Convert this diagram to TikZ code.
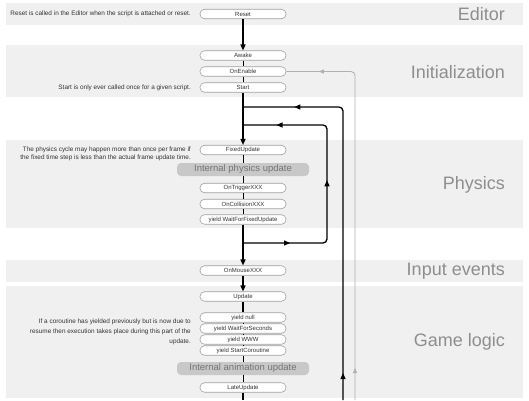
\documentclass[tikz,border=0pt]{standalone}
\usepackage{fontspec}
\setmainfont{Liberation Sans}
\usetikzlibrary{arrows.meta,decorations.markings}

\definecolor{band}{HTML}{F0F0F0}
\definecolor{boxline}{HTML}{A0A0A0}
\definecolor{labelgray}{HTML}{8E8E8E}
\definecolor{intfill}{HTML}{C8C8C8}
\definecolor{inttext}{HTML}{747474}
\definecolor{loopgray}{HTML}{B0B0B0}
\definecolor{textdark}{HTML}{333333}

\begin{document}
\begin{tikzpicture}[x=1pt,y=-1pt,
    ev/.style={draw=boxline,line width=0.6pt,fill=white,rounded corners=4.5pt,
      minimum width=86pt,minimum height=9.5pt,inner sep=0pt,text=textdark,
      font=\fontsize{6}{7}\selectfont},
    internal/.style={fill=intfill,rounded corners=4pt,minimum width=132pt,
      minimum height=13pt,inner sep=0pt,text=inttext,font=\fontsize{9.5}{11}\selectfont},
    note/.style={anchor=east,align=right,inner sep=0pt,text=textdark},
    phase/.style={anchor=east,inner sep=0pt,text=labelgray,font=\fontsize{18}{20}\selectfont},
    flow/.style={line width=1.3pt,-{Triangle[length=6pt,width=5pt]}},
    link/.style={line width=0.8pt},
    loopline/.style={line width=1.3pt,rounded corners=4pt},
    greyline/.style={line width=0.8pt,draw=loopgray,rounded corners=4pt},
    tip/.style={postaction={decorate,decoration={markings,
      mark=at position #1 with {\arrow{Triangle[length=6pt,width=5pt]}}}}},
    greytip/.style={postaction={decorate,decoration={markings,
      mark=at position #1 with {\arrow[loopgray]{Triangle[length=5pt,width=4pt]}}}}}]
  \useasboundingbox (0,0) rectangle (529,400);

  % phase bands
  \fill[band] (6,3) rectangle (523,25);
  \fill[band] (6,45) rectangle (523,97);
  \fill[band] (6,140) rectangle (523,228);
  \fill[band] (6,260) rectangle (523,282);
  \fill[band] (6,286) rectangle (523,398);

  \node[phase] (editor) at (505,14) {Editor};
  \node[phase] (init) at (505,72) {Initialization};
  \node[phase] (physics) at (505,185) {Physics};
  \node[phase] (input) at (505,271) {Input events};
  \node[phase] (gamelogic) at (505,342) {Game logic};

  % event boxes
  \node[ev] (reset) at (243,14) {Reset};
  \node[ev] (awake) at (243,55.5) {Awake};
  \node[ev] (onenable) at (243,71.5) {OnEnable};
  \node[ev] (start) at (243,87.5) {Start};
  \node[ev] (fixedupdate) at (243,150) {FixedUpdate};
  \node[internal] (physupdate) at (243,169.5) {Internal physics update};
  \node[ev] (ontrigger) at (243,188) {OnTriggerXXX};
  \node[ev] (oncollision) at (243,204) {OnCollisionXXX};
  \node[ev] (waitfixed) at (243,219.5) {yield WaitForFixedUpdate};
  \node[ev] (onmouse) at (243,270.5) {OnMouseXXX};
  \node[ev] (update) at (243,296.5) {Update};
  \node[ev] (yieldnull) at (243,317.5) {yield null};
  \node[ev] (waitsec) at (243,328.5) {yield WaitForSeconds};
  \node[ev] (yieldwww) at (243,339.5) {yield WWW};
  \node[ev] (startco) at (243,350.5) {yield StartCoroutine};
  \node[internal] (animupdate) at (243,368.5) {Internal animation update};
  \node[ev] (lateupdate) at (243,387.5) {LateUpdate};

  % notes
  \node[note,font=\fontsize{6.4}{7}\selectfont] (resetnote) at (191,14)
    {Reset is called in the Editor when the script is attached or reset.};
  \node[note,font=\fontsize{6.4}{7}\selectfont] (startnote) at (191,87.5)
    {Start is only ever called once for a given script.};
  \node[note,font=\fontsize{6.4}{7.5}\selectfont] (physnote) at (191,154)
    {The physics cycle may happen more than once per frame if\\
     the fixed time step is less than the actual frame update time.};
  \node[note,font=\fontsize{6.4}{10}\selectfont] (conote) at (191,332)
    {If a coroutine has yielded previously but is now due to\\
     resume then execution takes place during this part of the\\
     update.};

  % loop ends
  \coordinate (outtop) at (243,107);
  \coordinate (outbot) at (343,400);
  \coordinate (intop) at (243,125);
  \coordinate (inbot) at (243,243);
  \coordinate (inright) at (327,243);
  \coordinate (greybot) at (355,400);
  \coordinate (lateend) at (243,400);

  % main flow
  \draw[flow] (reset) -- (awake);
  \draw[link] (awake) -- (onenable);
  \draw[link] (onenable) -- (start);
  \draw[flow] (start) -- (fixedupdate);
  \draw[link] (fixedupdate) -- (physupdate);
  \draw[link] (physupdate) -- (ontrigger);
  \draw[link] (ontrigger) -- (oncollision);
  \draw[link] (oncollision) -- (waitfixed);
  \draw[flow] (waitfixed) -- (onmouse);
  \draw[flow] (onmouse) -- (update);
  \draw[line width=1.1pt] (update) -- (yieldnull);
  \draw[link] (yieldnull) -- (waitsec);
  \draw[link] (waitsec) -- (yieldwww);
  \draw[link] (yieldwww) -- (startco);
  \draw[link] (startco) -- (animupdate);
  \draw[link] (animupdate) -- (lateupdate);
  \draw[line width=1.1pt] (lateupdate) -- (lateend);

  % loops
  \draw[loopline,tip=27pt,tip=340pt] (outbot) |- (outtop);
  \draw[loopline,tip=47pt,tip=145pt,tip=249pt] (inbot) -- (inright) |- (intop);
  \draw[greyline,greytip=32pt,greytip=363pt] (greybot) |- (onenable.east);
\end{tikzpicture}
\end{document}
